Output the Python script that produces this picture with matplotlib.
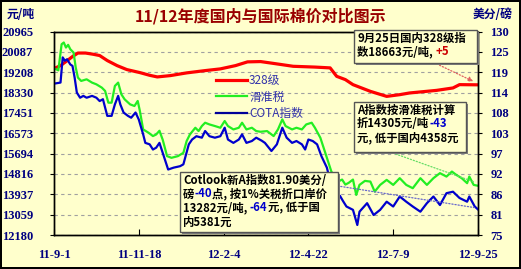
import numpy as np
import pandas as pd
import matplotlib
matplotlib.use('Agg')
import matplotlib.pyplot as plt
from matplotlib.patches import Rectangle
from matplotlib.offsetbox import TextArea, HPacker, VPacker, AnnotationBbox

plt.rcParams['font.family'] = ['Noto Sans CJK SC', 'DejaVu Sans']

start = pd.Timestamp('2011-09-01')

# 328级国内指数, 元/吨 (days counted from 2011-9-1)
red_days = [0, 6, 11, 17, 22, 29, 36, 42, 49, 58, 67, 79, 88, 95, 107, 122, 139, 153, 167, 178,
            190, 203, 220, 240, 254, 260, 268, 275, 291, 306, 318, 327, 352, 367, 373, 390]
red_vals = [19364, 19493, 19667, 19883, 20035, 20035, 19983, 19927, 19711, 19493, 19321, 19191,
            19074, 19004, 19061, 19178, 19277, 19351, 19493, 19654, 19667, 19580, 19463, 19429,
            19394, 19030, 18888, 18671, 18381, 18164, 18238, 18311, 18424, 18528, 18671, 18663]

# A指数按滑准税折算, 元/吨
green_days = [0, 4, 7, 9, 11, 13, 15, 18, 20, 22, 25, 30, 35, 39, 44, 47, 50, 53, 56, 59,
              62, 65, 70, 74, 77, 79, 82, 87, 91, 94, 97, 100, 104, 108, 114, 119, 122, 125, 130, 133,
              136, 139, 143, 148, 153, 157, 160, 165, 170, 173, 177, 182, 186, 190, 196, 202, 206, 210, 213, 219,
              223, 228, 232, 237, 240, 245, 249, 252, 255, 258, 262, 265, 268, 271, 275, 278, 281, 286, 291, 295,
              300, 306, 312, 318, 324, 330, 337, 343, 349, 355, 361, 366, 370, 375, 380, 382, 386, 390]
green_vals = [19377, 19290, 20415, 20489, 20273, 20389, 20199, 20056, 19407, 18974,
              18831, 18901, 18758, 18684, 18541, 18399, 17892, 17892, 18615, 18758,
              18251, 18035, 17819, 17749, 17966, 17533, 16737, 16594, 16451, 16520,
              16680, 16291, 15585, 15512, 15585, 15728, 16235, 16520, 16810, 16667,
              16884, 17027, 16953, 16884, 16810, 17100, 16884, 16737, 16810, 17027,
              16737, 16810, 16667, 16637, 16667, 16451, 16737, 17169, 16884, 16737,
              16810, 16737, 16953, 17027, 16810, 16377, 15802, 15369, 14936, 14646,
              14503, 14573, 14356, 14430, 14573, 13910, 14343, 14516, 14486, 14053,
              14343, 14560, 14343, 14633, 14343, 14200, 14633, 14343, 14633, 14850,
              14702, 14919, 14776, 14633, 14417, 14702, 14343, 14305]

# COTA指数, 美分/磅
blue_days = [0, 6, 8, 10, 12, 15, 17, 19, 21, 24, 27, 30, 35, 39, 42, 45, 49, 53, 56, 59,
             61, 64, 68, 71, 75, 78, 82, 84, 88, 91, 94, 97, 102, 105, 110, 116, 119, 124, 127, 131,
             136, 139, 143, 148, 153, 157, 160, 165, 170, 173, 177, 182, 186, 191, 194, 200, 205, 210, 214, 219,
             223, 228, 231, 234, 238, 242, 246, 251, 254, 257, 260, 263, 266, 269, 275, 279, 281, 288, 294, 300,
             306, 312, 318, 324, 330, 337, 343, 349, 355, 361, 367, 373, 380, 382, 387, 390]
blue_vals = [115.9, 116.2, 123.0, 122.1, 122.5, 121.1, 120.7, 117.5, 113.5, 112.1,
             112.6, 112.1, 112.6, 112.1, 111.2, 111.7, 107.2, 107.2, 110.3, 112.6,
             110.3, 108.1, 107.2, 106.7, 108.1, 106.2, 102.2, 99.9, 99.5, 98.1,
             98.6, 99.9, 95.4, 92.7, 93.2, 93.6, 94.1, 99.5, 100.8, 101.7,
             101.3, 103.1, 101.7, 101.3, 101.7, 104.0, 100.8, 99.9, 100.8, 102.2,
             99.9, 100.4, 101.3, 100.5, 99.9, 97.7, 99.5, 104.0, 101.3, 99.9,
             100.4, 99.5, 98.1, 100.8, 100.4, 99.5, 96.3, 93.2, 89.6, 85.9,
             84.6, 85.6, 84.1, 82.7, 81.8, 77.7, 81.3, 83.6, 80.4, 81.8,
             84.0, 82.7, 85.4, 84.0, 82.7, 81.3, 83.6, 85.4, 83.1, 86.3,
             86.7, 85.0, 84.0, 85.4, 82.7, 81.9]

left_ticks = [12180, 13059, 13937, 14816, 15694, 16573, 17451, 18330, 19208, 20087, 20965]
right_labels = ['75', '81', '86', '92', '97', '103', '108', '114', '119', '125', '130']
x_labels = ['11-9-1', '11-11-18', '12-2-4', '12-4-22', '12-7-9', '12-9-25']
series_names = ['328级', '滑准税', 'COTA指数']

W, H = 521, 269
BG = '#FFFFCC'
NAVY = '#000080'


def to_dates(days):
    return start + pd.to_timedelta(days, unit='D')


def fx(x):
    return x / W


def fy(y):
    return 1 - y / H


fig = plt.figure(figsize=(W / 100, H / 100), dpi=100)
fig.patch.set_facecolor(BG)
fig.patch.set_edgecolor('black')
fig.patch.set_linewidth(1.5)

ax = fig.add_axes([fx(54), fy(235), fx(478) - fx(54), fy(31.5) - fy(235)])
ax.set_facecolor(BG)
ax2 = ax.twinx()

l1, = ax.plot(to_dates(red_days), red_vals, color='#FF0000', lw=2.3, solid_joinstyle='round')
l2, = ax.plot(to_dates(green_days), green_vals, color='#22EE22', lw=1.6)
l3, = ax2.plot(to_dates(blue_days), blue_vals, color='#0000CC', lw=1.6)

ax.set_ylim(left_ticks[0], left_ticks[-1])
ax.set_yticks(left_ticks)
ax.set_yticklabels([str(v) for v in left_ticks])
ax2.set_ylim(75, 130)
ax2.set_yticks(np.linspace(75, 130, len(right_labels)))
ax2.set_yticklabels(right_labels)

xt = pd.to_datetime(x_labels, format='%y-%m-%d')
ax.set_xlim(xt[0], xt[-1])
ax.set_xticks(xt)
ax.set_xticklabels(x_labels)

ax.grid(axis='y', color='#A0A0A0', linestyle=(0, (3, 3)), lw=0.8)
for a in (ax, ax2):
    for s in a.spines.values():
        s.set_color('black')
        s.set_linewidth(1)

for lab in ax.get_yticklabels() + ax2.get_yticklabels() + ax.get_xticklabels():
    lab.set_fontfamily('Liberation Serif')
    lab.set_fontweight('bold')
    lab.set_fontsize(9)
    lab.set_color(NAVY)
ax.tick_params(axis='y', length=3, pad=12, direction='out')
ax2.tick_params(axis='y', length=3, pad=6, direction='out')
ax.tick_params(axis='x', length=4, pad=10, direction='in')

fig.text(0.5, fy(16), '11/12年度国内与国际棉价对比图示', ha='center', va='center',
         fontsize=11.5, fontweight='bold', color='#990000')
fig.text(fx(21), fy(15), '元/吨', ha='center', va='center', fontsize=8.5,
         fontweight='bold', color=NAVY)
fig.text(fx(493), fy(15), '美分/磅', ha='center', va='center', fontsize=8.5,
         fontweight='bold', color=NAVY)

leg = ax.legend([l1, l2, l3], series_names, loc='upper left',
                bbox_to_anchor=(fx(216), fy(74)), bbox_transform=fig.transFigure,
                frameon=False, fontsize=8.5, handlelength=2.6, handletextpad=0.2,
                labelspacing=0.3, borderpad=0, borderaxespad=0)
for t in leg.get_texts():
    t.set_color('#3333AA')
leg.legend_handles[2].set_color('#000099')

# dotted pointers
ax.annotate('', xy=(pd.Timestamp('2012-09-23'), 18760), xycoords='data',
            xytext=(fx(437), fy(64)), textcoords='figure fraction',
            arrowprops=dict(arrowstyle='-|>', linestyle=(0, (1, 1.5)), color='#E06060',
                            lw=0.9, mutation_scale=7), annotation_clip=False)
ax.annotate('', xy=(pd.Timestamp('2012-09-24'), 14430), xycoords='data',
            xytext=(fx(390), fy(152)), textcoords='figure fraction',
            arrowprops=dict(arrowstyle='-', linestyle=(0, (1, 1.5)), color='#66DD66', lw=0.9),
            annotation_clip=False)
ax2.annotate('', xy=(pd.Timestamp('2012-09-24'), 82.3), xycoords='data',
             xytext=(fx(338), fy(186)), textcoords='figure fraction',
             arrowprops=dict(arrowstyle='-', linestyle=(0, (1, 1.5)), color='#6666CC', lw=0.9),
             annotation_clip=False)


def note_box(x0, y0, x1, y1, lines):
    shadow = Rectangle((fx(x0 + 2), fy(y1 + 2)), fx(x1) - fx(x0), fy(y0) - fy(y1),
                       transform=fig.transFigure, facecolor='#7F7F7F', edgecolor='none', zorder=5)
    box = Rectangle((fx(x0), fy(y1)), fx(x1) - fx(x0), fy(y0) - fy(y1),
                    transform=fig.transFigure, facecolor=BG, edgecolor='#555555', lw=1, zorder=6)
    fig.add_artist(shadow)
    fig.add_artist(box)
    rows = []
    for ln in lines:
        parts = [TextArea(t, textprops=dict(color=c, fontsize=8.2, fontweight='bold'))
                 for t, c in ln]
        rows.append(HPacker(children=parts, pad=0, sep=0, align='baseline'))
    pack = VPacker(children=rows, pad=0, sep=0.7, align='left')
    ab = AnnotationBbox(pack, (fx(x0 + 3), fy(y0 + 1.5)), xycoords='figure fraction',
                        box_alignment=(0, 1), frameon=False, pad=0, zorder=7)
    fig.add_artist(ab)


note_box(354, 30, 477, 63, [
    [('9月25日国内328级指', 'black')],
    [('数18663元/吨, ', 'black'), ('+5', '#CC0000')],
])
note_box(354, 102, 466, 152, [
    [('A指数按滑准税计算', 'black')],
    [('折14305元/吨', 'black'), ('-43', '#0000CC')],
    [('元, 低于国内4358元', 'black')],
])
note_box(180, 172, 338, 232, [
    [('Cotlook新A指数81.90美分/', 'black')],
    [('磅', 'black'), ('-40', '#0000CC'), ('点, 按1%关税折口岸价', 'black')],
    [('13282元/吨, ', 'black'), ('-64', '#0000CC'), ('元, 低于国', 'black')],
    [('内5381元', 'black')],
])

fig.savefig('out.png', dpi=100, facecolor=fig.get_facecolor(), edgecolor=fig.get_edgecolor())
